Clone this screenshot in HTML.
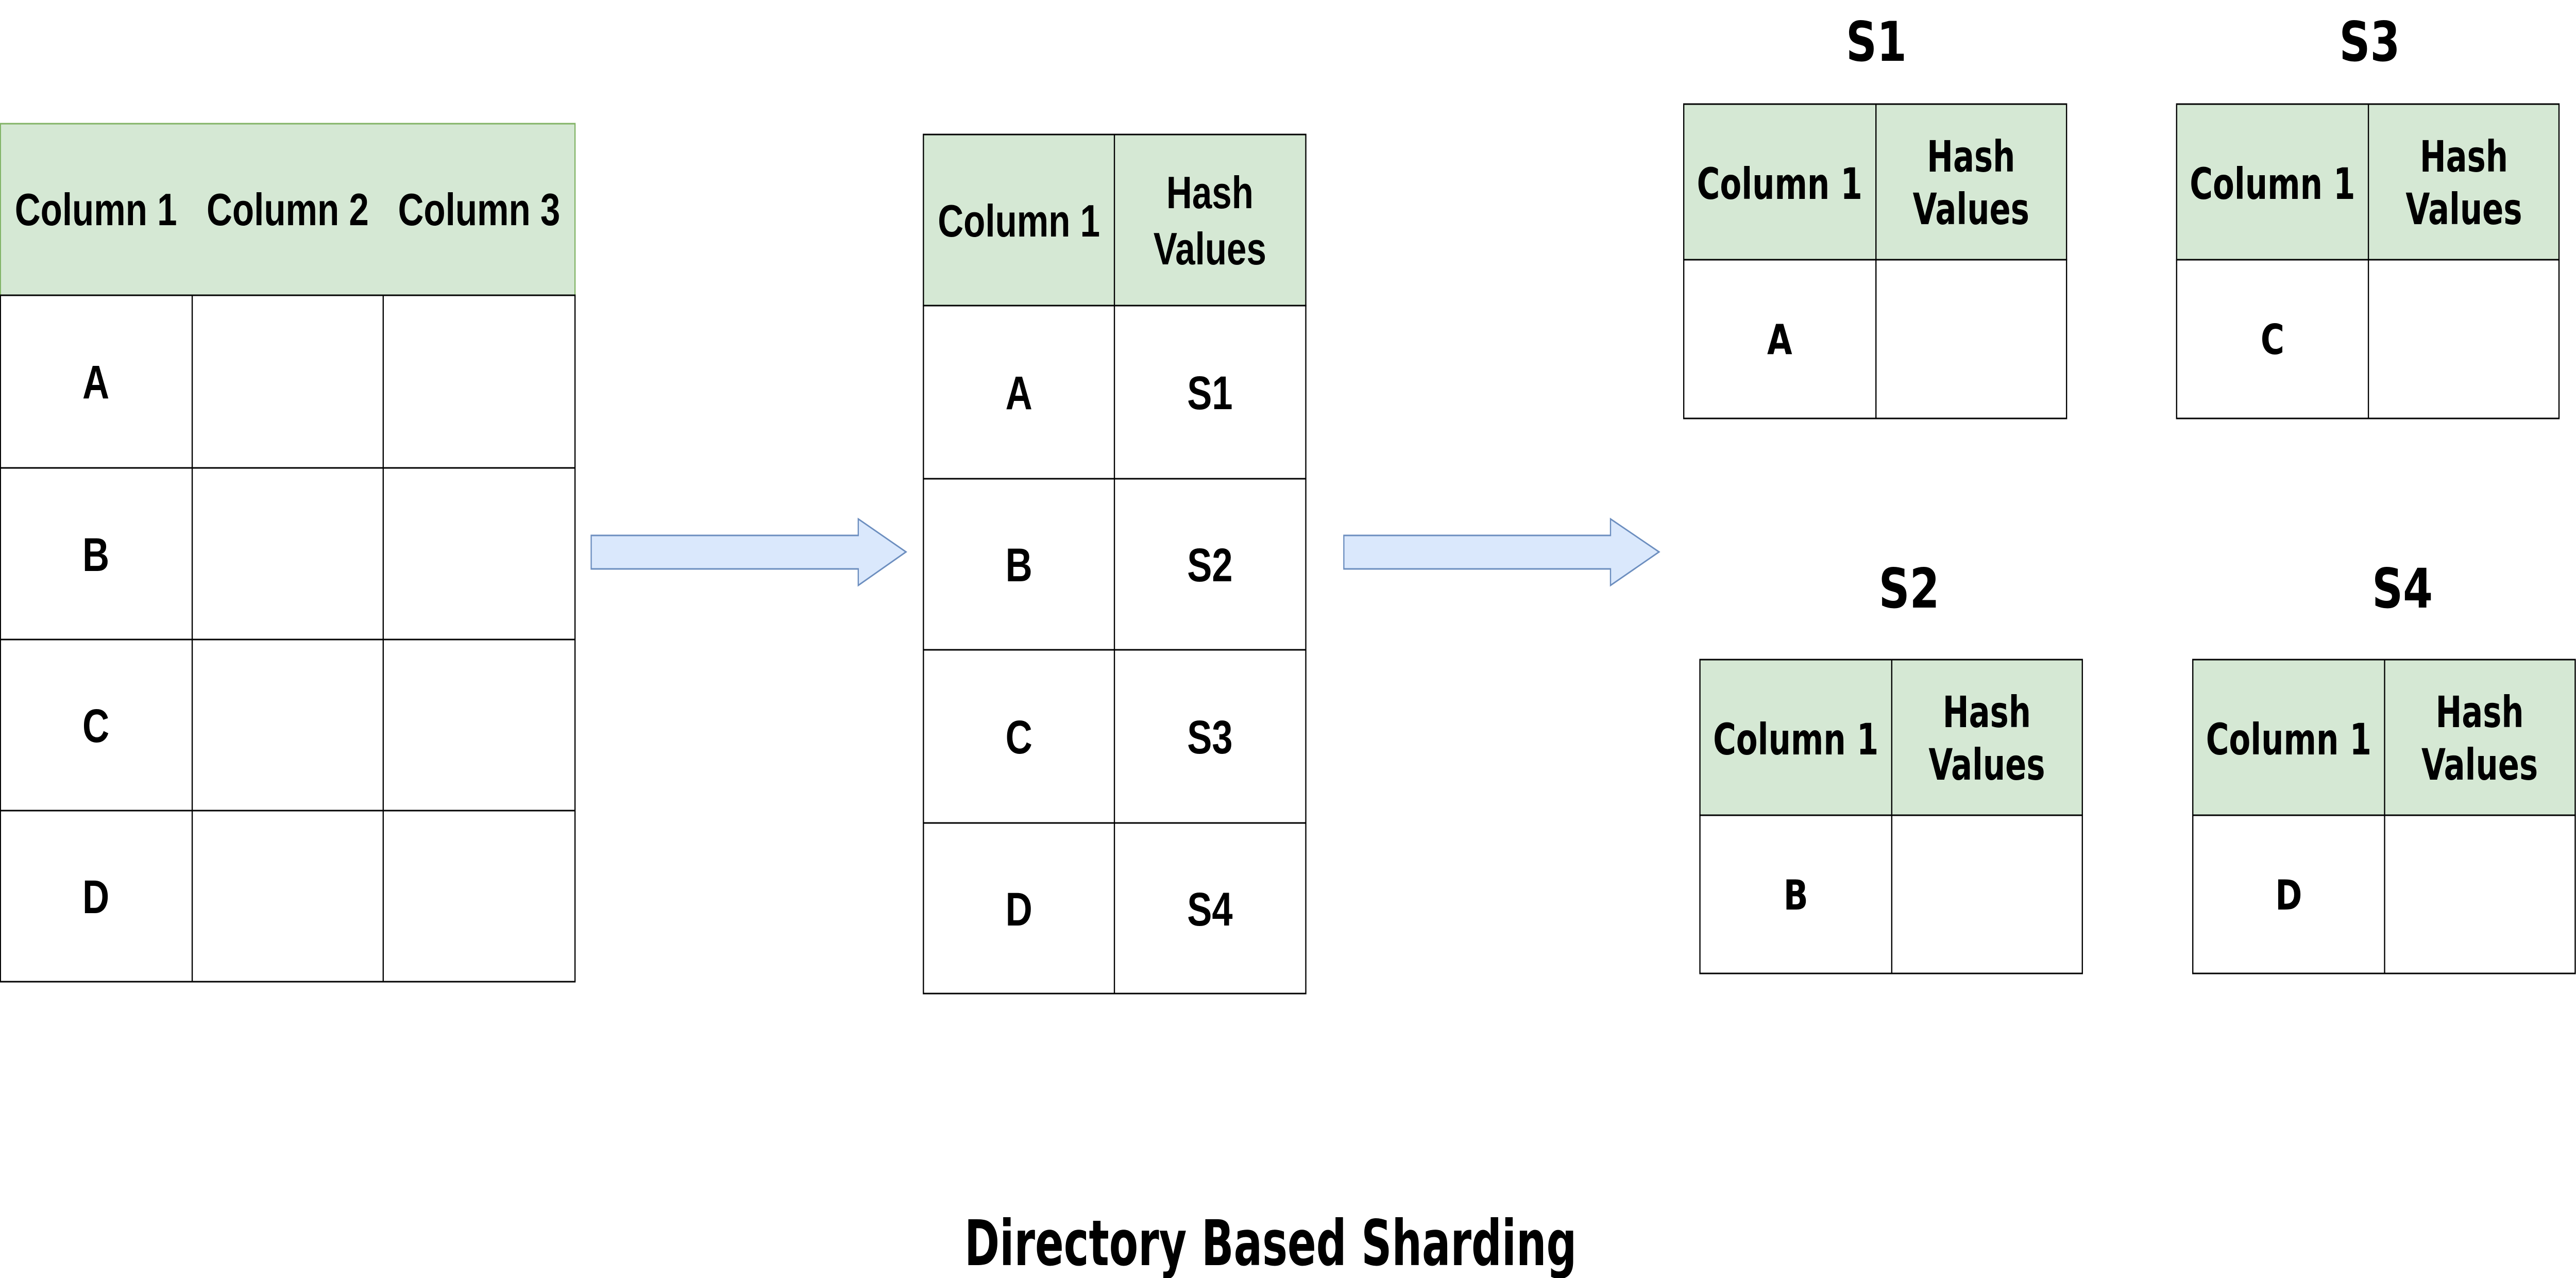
<!DOCTYPE html>
<html><head><meta charset="utf-8"><meta name="viewport" content="width=6366, initial-scale=1"><style>html,body{margin:0;padding:0;background:#fff;width:100%;height:100%;overflow:hidden}svg{display:block;position:fixed;left:0;top:0;width:100vw;height:100vh}</style></head>
<body>
<svg viewBox="0 0 6366 2480" preserveAspectRatio="none" xmlns="http://www.w3.org/2000/svg">
<rect width="6366" height="2480" fill="#fff"/>
<!-- Left table -->
<g stroke="#000" stroke-width="3" fill="none">
<rect x="1" y="240" width="1420" height="333" fill="#d5e8d4" stroke="#82b366"/>
<rect x="1" y="573" width="1420" height="1332" fill="#fff"/>
<line x1="1" y1="908" x2="1421" y2="908"/>
<line x1="1" y1="1241" x2="1421" y2="1241"/>
<line x1="1" y1="1573" x2="1421" y2="1573"/>
<line x1="475" y1="573" x2="475" y2="1905"/>
<line x1="947" y1="573" x2="947" y2="1905"/>
<line x1="1" y1="573" x2="1421" y2="573"/>
</g>
<g font-family="Liberation Sans, Arial, sans-serif" font-weight="bold" font-size="88" text-anchor="middle" fill="#000">
<text x="237" y="437">Column 1</text>
<text x="711" y="437">Column 2</text>
<text x="1184" y="437">Column 3</text>
</g>
<g font-family="Liberation Sans, Arial, sans-serif" font-weight="bold" font-size="92" text-anchor="middle" fill="#000">
<text x="237" y="773">A</text>
<text x="237" y="1108">B</text>
<text x="237" y="1440">C</text>
<text x="237" y="1772">D</text>
</g>
<!-- Arrows -->
<polygon points="1461,1039 2121,1039 2121,1007 2239,1071 2121,1136 2121,1104 1461,1104" fill="#dae8fc" stroke="#6c8ebf" stroke-width="3"/>
<polygon points="3321,1039 3980,1039 3980,1007 4100,1071 3980,1136 3980,1104 3321,1104" fill="#dae8fc" stroke="#6c8ebf" stroke-width="3"/>
<!-- Middle table -->
<g stroke="#000" stroke-width="3">
<rect x="2282" y="261" width="945" height="332" fill="#d5e8d4"/>
<rect x="2282" y="593" width="945" height="1335" fill="#fff"/>
<line x1="2282" y1="929" x2="3227" y2="929"/>
<line x1="2282" y1="1261" x2="3227" y2="1261"/>
<line x1="2282" y1="1597" x2="3227" y2="1597"/>
<line x1="2754" y1="261" x2="2754" y2="1928"/>
</g>
<g font-family="Liberation Sans, Arial, sans-serif" font-weight="bold" font-size="88" text-anchor="middle" fill="#000">
<text x="2518" y="459">Column 1</text>
<text x="2990" y="404">Hash</text>
<text x="2990" y="513">Values</text>
</g>
<g font-family="Liberation Sans, Arial, sans-serif" font-weight="bold" font-size="92" text-anchor="middle" fill="#000">
<text x="2518" y="794">A</text>
<text x="2990" y="794">S1</text>
<text x="2518" y="1128">B</text>
<text x="2990" y="1128">S2</text>
<text x="2518" y="1462">C</text>
<text x="2990" y="1462">S3</text>
<text x="2518" y="1796">D</text>
<text x="2990" y="1796">S4</text>
</g>
<!-- Shard tables -->
<g stroke="#000" stroke-width="3">
<rect x="4161" y="202" width="946" height="302" fill="#d5e8d4"/>
<rect x="4161" y="504" width="946" height="308" fill="#fff"/>
<line x1="4636" y1="202" x2="4636" y2="812"/>
<rect x="5379" y="202" width="945" height="302" fill="#d5e8d4"/>
<rect x="5379" y="504" width="945" height="308" fill="#fff"/>
<line x1="5853" y1="202" x2="5853" y2="812"/>
<rect x="4201" y="1280" width="945" height="302" fill="#d5e8d4"/>
<rect x="4201" y="1582" width="945" height="307" fill="#fff"/>
<line x1="4675" y1="1280" x2="4675" y2="1889"/>
<rect x="5419" y="1280" width="945" height="302" fill="#d5e8d4"/>
<rect x="5419" y="1582" width="945" height="307" fill="#fff"/>
<line x1="5893" y1="1280" x2="5893" y2="1889"/>
</g>
<g font-family="DejaVu Sans, Verdana, sans-serif" font-weight="bold" fill="#000" text-anchor="middle">
<g font-size="84">
<text x="4398" y="386" textLength="409" lengthAdjust="spacingAndGlyphs">Column 1</text>
<text x="4871" y="333" textLength="218" lengthAdjust="spacingAndGlyphs">Hash</text>
<text x="4871" y="435" textLength="288" lengthAdjust="spacingAndGlyphs">Values</text>
<text x="5616" y="386" textLength="409" lengthAdjust="spacingAndGlyphs">Column 1</text>
<text x="6089" y="333" textLength="218" lengthAdjust="spacingAndGlyphs">Hash</text>
<text x="6089" y="435" textLength="288" lengthAdjust="spacingAndGlyphs">Values</text>
<text x="4438" y="1464" textLength="409" lengthAdjust="spacingAndGlyphs">Column 1</text>
<text x="4910" y="1411" textLength="218" lengthAdjust="spacingAndGlyphs">Hash</text>
<text x="4910" y="1513" textLength="288" lengthAdjust="spacingAndGlyphs">Values</text>
<text x="5656" y="1464" textLength="409" lengthAdjust="spacingAndGlyphs">Column 1</text>
<text x="6128" y="1411" textLength="218" lengthAdjust="spacingAndGlyphs">Hash</text>
<text x="6128" y="1513" textLength="288" lengthAdjust="spacingAndGlyphs">Values</text>
</g>
<g font-size="80">
<text x="4398" y="687">A</text>
<text x="5616" y="687">C</text>
<text x="4438" y="1765">B</text>
<text x="5656" y="1765">D</text>
</g>
<g font-size="106">
<text x="4637" y="118">S1</text>
<text x="5856" y="118">S3</text>
<text x="4718" y="1179">S2</text>
<text x="5937" y="1179">S4</text>
</g>
<text x="3140" y="2455" font-size="122" textLength="1513" lengthAdjust="spacingAndGlyphs">Directory Based Sharding</text>
</g>
</svg>
</body></html>
